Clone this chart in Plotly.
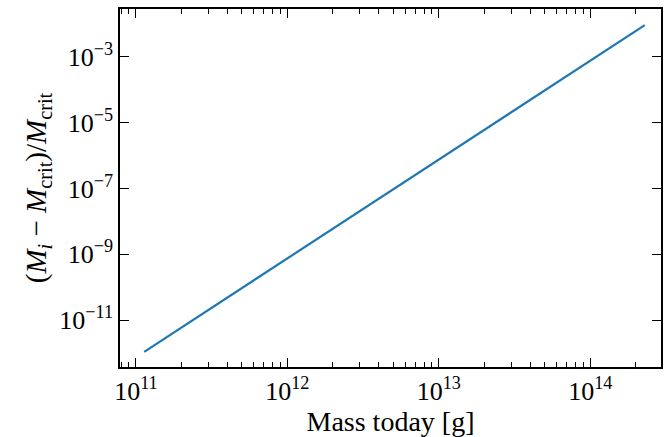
import plotly.graph_objects as go

# Present-day mass [g] and fractional excess of the initial mass over M_crit
mass_today = [1.135e11, 1e12, 1e13, 1e14, 2.29e14]
frac_excess = [1.1e-12, 7.5e-10, 7.5e-7, 7.5e-4, 9.0e-3]

x_major = [1e11, 1e12, 1e13, 1e14]
x_major_text = ["10<sup>11</sup>", "10<sup>12</sup>", "10<sup>13</sup>", "10<sup>14</sup>"]
y_major = [1e-11, 1e-9, 1e-7, 1e-5, 1e-3]
y_major_text = ["10<sup>\u221211</sup>", "10<sup>\u22129</sup>", "10<sup>\u22127</sup>",
                "10<sup>\u22125</sup>", "10<sup>\u22123</sup>"]

x_minor = [m * 10 ** e for e in range(10, 15) for m in range(2, 10)]

font_family = "Liberation Serif, DejaVu Serif, serif"

fig = go.Figure()
fig.add_trace(go.Scatter(
    x=mass_today, y=frac_excess, mode="lines",
    line=dict(color="#1f77b4", width=2.2), showlegend=False,
))

axis_common = dict(
    showgrid=False, zeroline=False, showline=True, linecolor="black",
    linewidth=1.5, mirror="ticks", ticks="inside", ticklen=9, tickwidth=1.3,
    tickcolor="black", tickfont=dict(family=font_family, size=26, color="black"),
)

fig.update_xaxes(
    type="log", range=[10.895, 14.467],
    tickmode="array", tickvals=x_major, ticktext=x_major_text,
    minor=dict(tickvals=x_minor, ticks="inside", ticklen=5, tickwidth=1.1,
               tickcolor="black", showgrid=False),
    title=dict(text="Mass today [g]", font=dict(family=font_family, size=28, color="black"),
               standoff=4),
    **axis_common,
)
fig.update_yaxes(
    type="log", range=[-12.42, -1.555],
    tickmode="array", tickvals=y_major, ticktext=y_major_text,
    title=dict(text="(<i>M<sub>i</sub></i> \u2212 <i>M</i><sub>crit</sub>)/<i>M</i><sub>crit</sub>",
               font=dict(family=font_family, size=29, color="black"), standoff=4),
    **axis_common,
)

fig.update_layout(
    width=664, height=437,
    margin=dict(l=120, r=1, t=9, b=70),
    paper_bgcolor="white", plot_bgcolor="white",
)

fig.write_html("out.html")
